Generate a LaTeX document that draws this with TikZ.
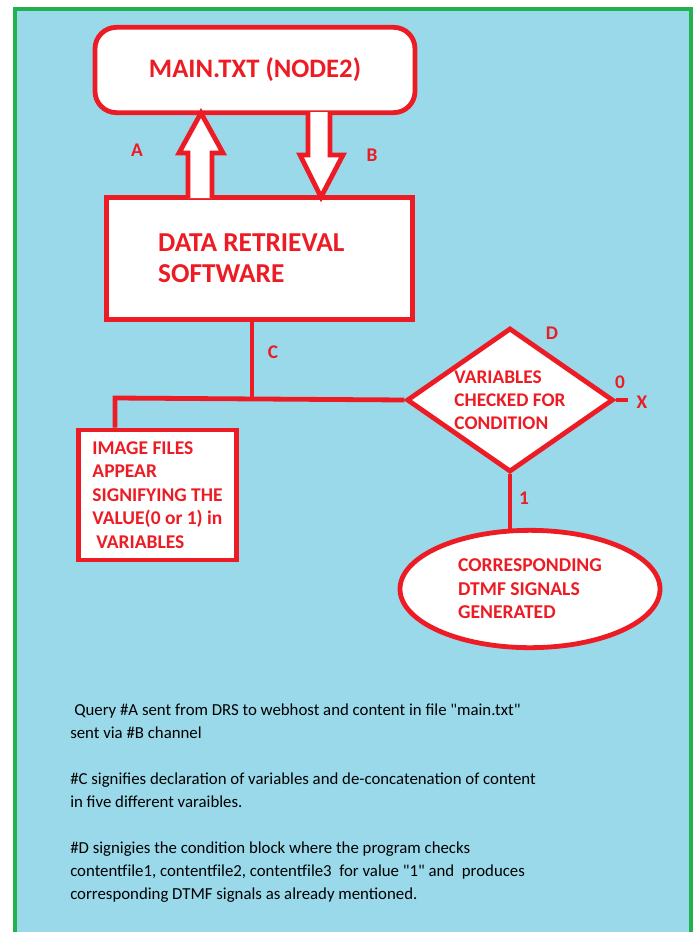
\documentclass[tikz,border=0pt]{standalone}
\usepackage{fontspec}
\setmainfont{Carlito}
\usetikzlibrary{shapes.geometric}
\definecolor{pred}{RGB}{237,28,36}
\definecolor{pblue}{RGB}{153,217,234}
\definecolor{pgreen}{RGB}{34,177,76}
\tikzset{
  redline/.style={draw=pred, line width=3.6pt},
  box/.style={redline, fill=white, text=pred, font=\bfseries},
  lbl/.style={text=pred, font=\bfseries\fontsize{14.5pt}{16pt}\selectfont, inner sep=0pt},
}
\begin{document}
\begin{tikzpicture}[x=0.75pt,y=-0.75pt]
\useasboundingbox (0,0) rectangle (697,932);
\fill[white] (0,0) rectangle (697,932);
\fill[pblue] (15,9) rectangle (691,940);
\draw[pgreen, line width=3pt] (15,9) rectangle (691,940);

% main.txt
\node[box, rounded corners=16pt, minimum width=240pt, minimum height=64pt,
      font=\bfseries\fontsize{20pt}{23pt}\selectfont, text depth=0pt, inner sep=0pt]
  (main) at (255,70) {\raisebox{3pt}{MAIN.TXT (NODE2)}};

% data retrieval software
\node[box, minimum width=230pt, minimum height=91pt, inner xsep=39pt, inner ysep=0pt,
      font=\bfseries\fontsize{20.5pt}{23.3pt}\selectfont]
  (drs) at (259.5,258.5) {\raisebox{4.5pt}{\parbox[c]{152pt}{\raggedright DATA RETRIEVAL\\SOFTWARE}}};

% block arrows
\draw[redline, fill=white, line join=miter]
  (188,198) -- (188,153) -- (179,153) -- (201,113) -- (223,153) -- (212,153) -- (212,198);
\draw[redline, fill=white, line join=miter]
  (308,112) -- (308,155) -- (300,155) -- (321,197) -- (343,155) -- (330,155) -- (330,112);
\node[lbl] (la) at (137,150) {A};
\node[lbl] (lb) at (372,155) {B};

% image files box
\node[box, minimum width=119pt, minimum height=97.5pt, align=left, inner sep=1pt,
      font=\bfseries\fontsize{14.6pt}{17.6pt}\selectfont]
  (img) at (157.5,495) {IMAGE FILES\\APPEAR\\SIGNIFYING THE\\VALUE(0 or 1) in\\\hspace{3pt}VARIABLES};

% diamond
\node[box, diamond, aspect=1.43, inner sep=0pt, minimum width=155pt, minimum height=108pt,
      align=left, font=\bfseries\fontsize{14.5pt}{17.3pt}\selectfont]
  (dia) at (510,400) {VARIABLES\\CHECKED FOR\\CONDITION};

% ellipse
\node[box, ellipse, minimum width=195pt, minimum height=88pt, align=left,
      font=\bfseries\fontsize{14.7pt}{17.6pt}\selectfont]
  (ell) at (530,589) {CORRESPONDING\\DTMF SIGNALS\\GENERATED};

% connectors
\coordinate (cj) at (252,398);
\coordinate (lt) at (115,398);
\coordinate (xend) at (628,400);
\draw[redline] (drs.south -| cj) -- (cj);
\draw[redline, line join=miter] (img.north -| lt) -- (lt) -- (dia.west);
\draw[redline] (dia.east) -- (xend);
\draw[redline] (dia.south) -- ([yshift=-1pt]dia.south |- ell.north);

\node[lbl] (lc) at (273,352) {C};
\node[lbl] (ld) at (552,333) {D};
\node[lbl] (l0) at (620,382) {0};
\node[lbl] (lx) at (642,402) {X};
\node[lbl] (l1) at (524,498) {1};

% explanation text
\node[anchor=north west, align=left, inner sep=0pt, text=black,
      font=\fontsize{12.6pt}{17.25pt}\selectfont]
  (notes) at (70,704) {\hspace{3pt}Query \#A sent from DRS to webhost and content in file \textquotedbl main.txt\textquotedbl\\
sent via \#B channel\\[17.25pt]
\#C signifies declaration of variables and de-concatenation of content\\
in five different varaibles.\\[17.25pt]
\#D signigies the condition block where the program checks\\
contentfile1, contentfile2, contentfile3\ \ for value \textquotedbl 1\textquotedbl\ and\ \ produces\\
corresponding DTMF signals as already mentioned.};
\end{tikzpicture}
\end{document}
